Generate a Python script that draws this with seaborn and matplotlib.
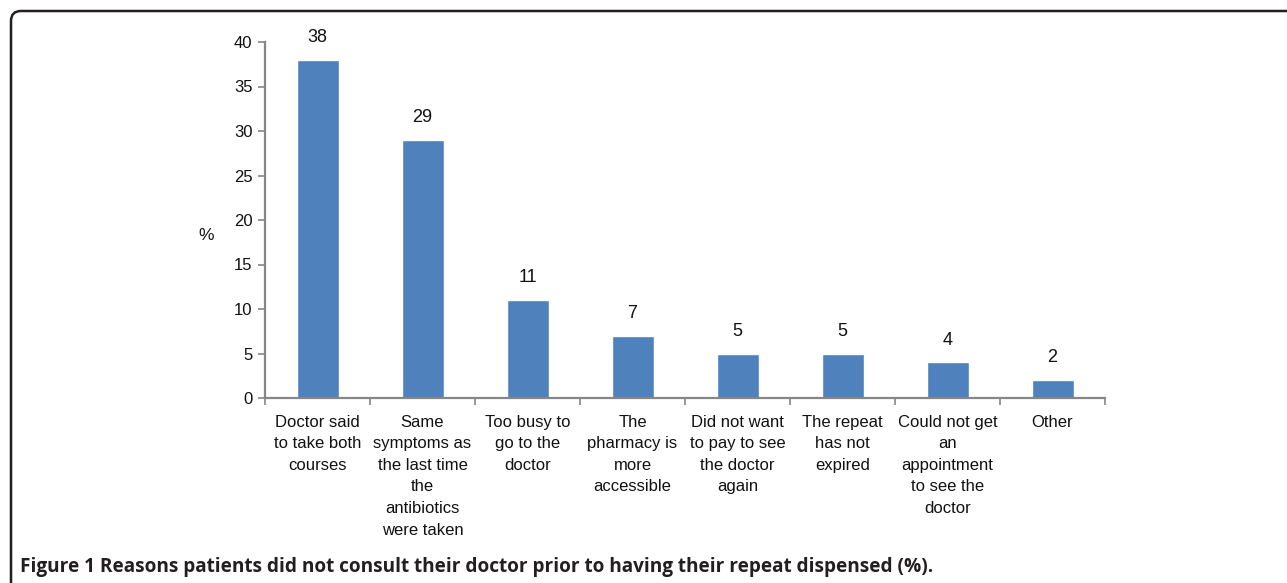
import seaborn as sns
import matplotlib.pyplot as plt
from matplotlib.path import Path
from matplotlib.patches import PathPatch
import numpy as np

reasons = ["Doctor said\nto take both\ncourses",
           "Same\nsymptoms as\nthe last time\nthe\nantibiotics\nwere taken",
           "Too busy to\ngo to the\ndoctor",
           "The\npharmacy is\nmore\naccessible",
           "Did not want\nto pay to see\nthe doctor\nagain",
           "The repeat\nhas not\nexpired",
           "Could not get\nan\nappointment\nto see the\ndoctor",
           "Other"]
percent = [38, 29, 11, 7, 5, 5, 4, 2]
yticks = [0, 5, 10, 15, 20, 25, 30, 35, 40]
caption = "Figure 1 Reasons patients did not consult their doctor prior to having their repeat dispensed (%)."

sns.set_style("white")
plt.rcParams['font.family'] = ['Liberation Sans', 'DejaVu Sans']

W, H = 1287, 583
fig = plt.figure(figsize=(W / 100, H / 100), dpi=100)
ax = fig.add_axes([265 / W, 1 - 398 / H, 840 / W, 356 / H])

sns.barplot(x=reasons, y=percent, color="#4F81BD", width=0.4, saturation=1, ax=ax)
ax.bar_label(ax.containers[0], fmt="%d", padding=10, fontsize=13, color="#111111")

grey = "#868686"
ax.set_ylim(0, 40)
ax.set_xlim(-0.5, len(reasons) - 0.5)
ax.set_yticks(yticks)
for side in ["top", "right"]:
    ax.spines[side].set_visible(False)
for side in ["left", "bottom"]:
    ax.spines[side].set_color(grey)
    ax.spines[side].set_linewidth(1.6)
ax.tick_params(axis="y", length=5, width=1.2, color=grey, labelsize=12, labelcolor="#111111", pad=4, left=True)
ax.tick_params(axis="x", which="major", length=0, labelsize=12, labelcolor="#111111", pad=12)
ax.set_xticks(np.arange(-0.5, len(reasons)), minor=True)
ax.tick_params(axis="x", which="minor", length=5, width=1.2, color=grey, bottom=True)
ax.set_ylabel("%", rotation=0, fontsize=12.5, color="#111111", labelpad=0)
ax.yaxis.set_label_coords(-0.07, 0.435)
ax.set_xlabel("")
for lbl in ax.get_xticklabels():
    lbl.set_multialignment("center")
    lbl.set_linespacing(1.55)

# frame around figure: top and left edges with rounded corner
x0, y0, r = 11 / W, 1 - 11 / H, 10
verts = [(1.0, y0), (x0 + r / W, y0), (x0, y0), (x0, y0 - r / H), (x0, 0.0)]
codes = [Path.MOVETO, Path.LINETO, Path.CURVE3, Path.CURVE3, Path.LINETO]
fig.patches.append(PathPatch(Path(verts, codes), transform=fig.transFigure,
                             fill=False, edgecolor="#231f20", linewidth=1.8))

fig.text(20 / W, 1 - 567 / H, caption, fontsize=13.65, fontweight="bold",
         family=["Open Sans", "DejaVu Sans"], color="#231f20", va="center", ha="left")

plt.savefig("out.png", dpi=100)
